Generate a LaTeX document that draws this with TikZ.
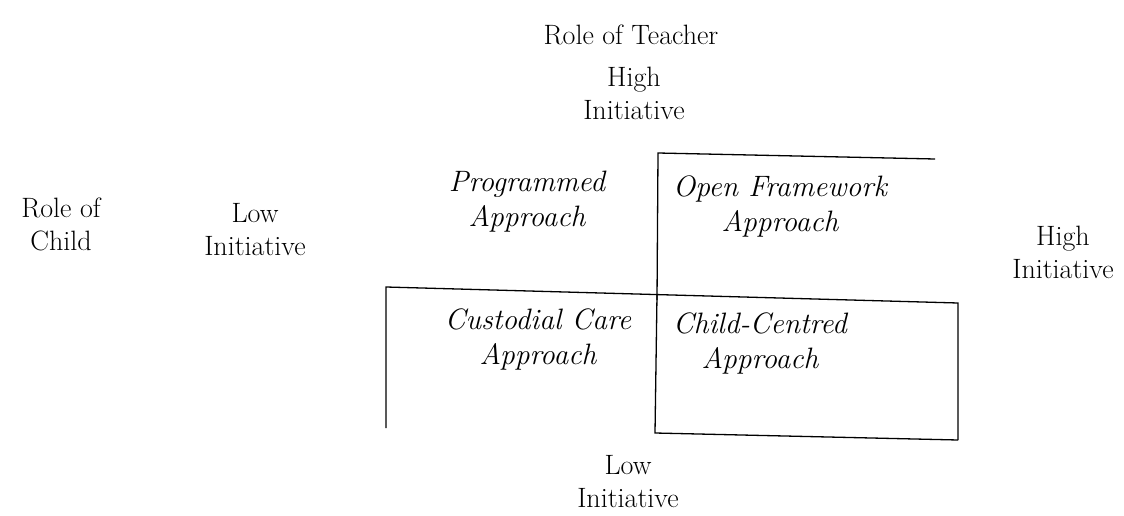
\documentclass[tikz,border=0pt]{standalone}
\begin{document}
\begin{tikzpicture}[x=1pt,y=-1pt,
  lbl/.style={font=\fontsize{28}{33}\selectfont, align=center, inner sep=0pt},
  ilbl/.style={lbl, font=\fontsize{29.5}{35}\selectfont\itshape},
  frame/.style={draw=black, line width=1.3pt}]
\useasboundingbox (0,0) rectangle (1124,516);
\node[lbl] (teacher) at (631,35) {Role of Teacher};
\node[lbl] (tophigh) at (634,93) {High\\Initiative};
\node[lbl] (child) at (61,224) {Role of\\Child};
\node[lbl] (leftlow) at (255,230) {Low\\Initiative};
\node[lbl] (righthigh) at (1063,252) {High\\Initiative};
\node[lbl] (botlow) at (628,482) {Low\\Initiative};
\node[ilbl] (prog) at (527,202) {Programmed\\Approach};
\node[ilbl] (open) at (780,206) {Open Framework\\Approach};
\node[ilbl] (cust) at (538,339) {Custodial Care\\Approach};
\node[ilbl] (cc) at (760,343) {Child-Centred\\Approach};
% quadrant lines
\draw[frame] (935,159) -- (658,153) -- (657,300);
\draw[frame] (386,428) -- (386,287) -- (958,303) -- (958,440);
\draw[frame] (657,295) -- (655,433) -- (958,440);
\end{tikzpicture}
\end{document}
